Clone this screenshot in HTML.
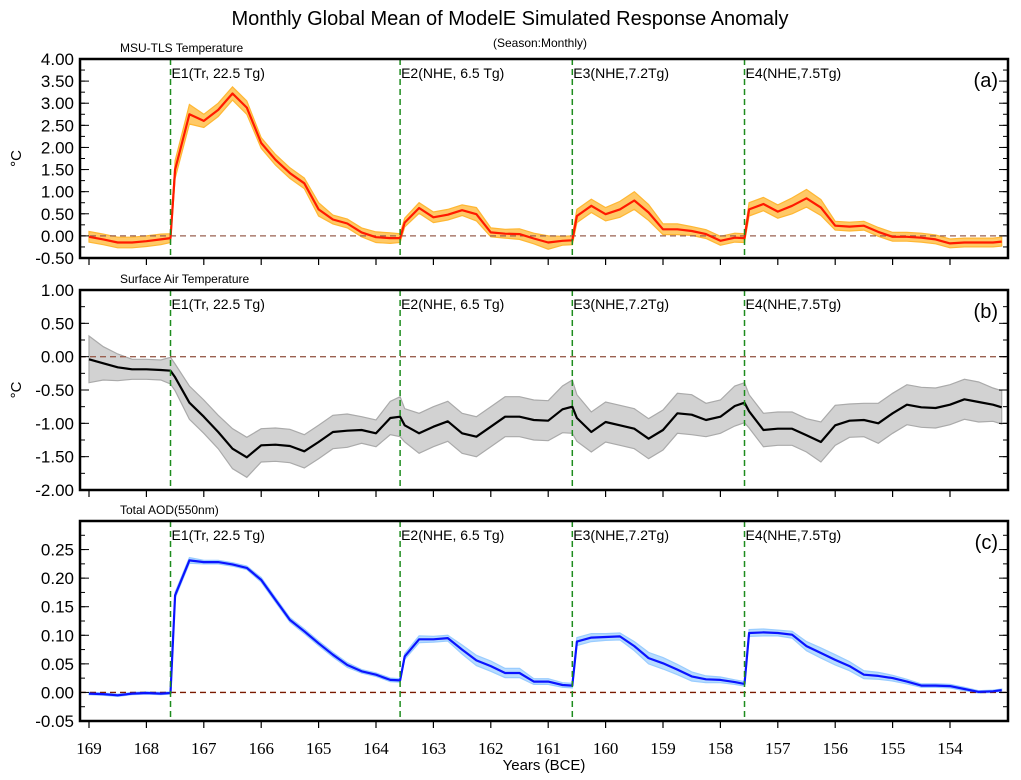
<!DOCTYPE html>
<html><head><meta charset="utf-8"><style>
body{margin:0;background:#fff}
svg{display:block;font-family:"Liberation Sans",sans-serif}
</style></head><body>
<svg id="chart" width="1021" height="780" viewBox="0 0 1021 780">
<text x="510" y="25" font-size="20" text-anchor="middle">Monthly Global Mean of ModelE Simulated Response Anomaly</text>
<text x="540" y="47" font-size="12" text-anchor="middle">(Season:Monthly)</text>
<g id="plots"></g>
<text x="544" y="770" font-size="15" text-anchor="middle" font-family="Liberation Sans Narrow, Liberation Sans, sans-serif">Years (BCE)</text>
</svg>
<script>
const years=[169,168.75,168.5,168.25,168,167.75,167.58,167.5,167.25,167,166.75,166.5,166.25,166,165.75,165.5,165.25,165,164.75,164.5,164.25,164,163.75,163.58,163.5,163.25,163,162.75,162.5,162.25,162,161.75,161.5,161.25,161,160.75,160.58,160.5,160.25,160,159.75,159.5,159.25,159,158.75,158.5,158.25,158,157.75,157.58,157.5,157.25,157,156.75,156.5,156.25,156,155.75,155.5,155.25,155,154.75,154.5,154.25,154,153.75,153.5,153.25,153.1];
const tlsMean=[-0.02,-0.08,-0.15,-0.15,-0.12,-0.08,-0.05,1.5,2.75,2.6,2.85,3.22,2.9,2.1,1.72,1.42,1.19,0.6,0.37,0.28,0.08,-0.03,-0.05,-0.05,0.3,0.63,0.42,0.48,0.58,0.49,0.08,0.05,0.04,-0.06,-0.15,-0.11,-0.1,0.45,0.68,0.49,0.6,0.8,0.53,0.15,0.15,0.11,0.04,-0.11,-0.04,-0.05,0.6,0.72,0.55,0.68,0.85,0.64,0.23,0.21,0.23,0.09,-0.02,-0.02,-0.04,-0.08,-0.17,-0.15,-0.15,-0.15,-0.13];
const tlsSpread=[0.12,0.12,0.12,0.12,0.12,0.12,0.1,0.2,0.22,0.15,0.15,0.15,0.15,0.12,0.12,0.12,0.12,0.15,0.1,0.1,0.1,0.12,0.12,0.1,0.1,0.12,0.12,0.12,0.12,0.15,0.1,0.1,0.12,0.12,0.15,0.1,0.1,0.15,0.15,0.15,0.18,0.2,0.18,0.12,0.12,0.1,0.1,0.1,0.1,0.1,0.15,0.15,0.15,0.18,0.2,0.18,0.1,0.1,0.1,0.1,0.1,0.1,0.1,0.1,0.1,0.1,0.1,0.1,0.1];
const satMean=[-0.04,-0.1,-0.16,-0.19,-0.19,-0.2,-0.21,-0.31,-0.69,-0.9,-1.13,-1.38,-1.51,-1.33,-1.32,-1.34,-1.42,-1.28,-1.13,-1.11,-1.1,-1.15,-0.92,-0.9,-1.03,-1.15,-1.05,-0.97,-1.15,-1.2,-1.05,-0.9,-0.9,-0.95,-0.96,-0.79,-0.75,-0.92,-1.13,-0.98,-1.03,-1.08,-1.23,-1.1,-0.85,-0.87,-0.95,-0.9,-0.74,-0.69,-0.82,-1.1,-1.08,-1.08,-1.18,-1.28,-1.03,-0.96,-0.95,-1.0,-0.85,-0.72,-0.76,-0.77,-0.72,-0.64,-0.68,-0.72,-0.76];
const satSpread=[0.35,0.25,0.2,0.15,0.15,0.15,0.2,0.2,0.25,0.25,0.25,0.3,0.3,0.25,0.25,0.25,0.25,0.25,0.25,0.25,0.2,0.2,0.25,0.3,0.25,0.3,0.3,0.3,0.3,0.3,0.3,0.3,0.3,0.3,0.3,0.35,0.4,0.35,0.3,0.3,0.3,0.3,0.3,0.3,0.3,0.3,0.25,0.25,0.3,0.3,0.25,0.25,0.25,0.25,0.25,0.3,0.3,0.25,0.25,0.3,0.3,0.3,0.3,0.3,0.3,0.3,0.3,0.25,0.25];
const aodMean=[-0.002,-0.003,-0.005,-0.002,-0.001,-0.002,-0.001,0.17,0.231,0.228,0.228,0.224,0.218,0.197,0.162,0.127,0.107,0.086,0.066,0.048,0.037,0.031,0.022,0.021,0.063,0.093,0.093,0.095,0.075,0.056,0.046,0.034,0.034,0.019,0.019,0.013,0.012,0.089,0.096,0.097,0.098,0.081,0.06,0.051,0.04,0.028,0.023,0.022,0.018,0.015,0.104,0.105,0.104,0.101,0.081,0.069,0.057,0.046,0.031,0.029,0.025,0.019,0.012,0.012,0.011,0.006,0.001,0.002,0.004];
const aodSpread=[0.002,0.002,0.002,0.002,0.002,0.002,0.002,0.005,0.005,0.003,0.003,0.003,0.003,0.004,0.004,0.004,0.004,0.004,0.004,0.004,0.003,0.003,0.003,0.003,0.005,0.006,0.005,0.005,0.008,0.009,0.009,0.008,0.008,0.005,0.005,0.004,0.004,0.007,0.007,0.006,0.006,0.008,0.01,0.01,0.009,0.008,0.006,0.005,0.004,0.004,0.006,0.006,0.005,0.006,0.008,0.009,0.009,0.008,0.007,0.006,0.005,0.004,0.003,0.003,0.003,0.003,0.002,0.002,0.002];
const eventYears=[167.58,163.58,160.58,157.58];
const eventLabels=["E1(Tr, 22.5 Tg)","E2(NHE, 6.5 Tg)","E3(NHE,7.2Tg)","E4(NHE,7.5Tg)"];
const xTickYears=[169,168,167,166,165,164,163,162,161,160,159,158,157,156,155,154];
const tlsTicks=["4.00","3.50","3.00","2.50","2.00","1.50","1.00","0.50","0.00","-0.50"];
const satTicks=["1.00","0.50","0.00","-0.50","-1.00","-1.50","-2.00"];
const aodTicks=["0.25","0.20","0.15","0.10","0.05","0.00","-0.05"];

const NS="http://www.w3.org/2000/svg";
const L=80,R=1008;
const xs=y=>89+(169-y)*57.4;
const root=document.getElementById('plots');
function mk(tag,attrs,parent){const e=document.createElementNS(NS,tag);for(const k in attrs)e.setAttribute(k,attrs[k]);(parent||root).appendChild(e);return e;}

const panels=[
 {key:'a',title:'MSU-TLS Temperature',top:59,bot:258,min:-0.5,max:4.0,ticks:tlsTicks,minor:0.25,mean:tlsMean,spread:tlsSpread,band:'#FFB733',bandFill:'#FFC966',line:'#FF1A00',unit:true},
 {key:'b',title:'Surface Air Temperature',top:290,bot:490,min:-2,max:1,ticks:satTicks,minor:0.25,mean:satMean,spread:satSpread,band:'#AAAAAA',bandFill:'#D2D2D2',line:'#000000',unit:true},
 {key:'c',title:'Total AOD(550nm)',top:521,bot:721,min:-0.05,max:0.30,ticks:aodTicks,minor:0.025,mean:aodMean,spread:aodSpread,band:'#99CCFF',bandFill:'#B8DCFF',line:'#0A14FF',unit:false}
];
panels.forEach(p=>{
 const g=mk('g',{});
 
 
 const ys=v=>p.bot-(v-p.min)/(p.max-p.min)*(p.bot-p.top);
 const t=mk('text',{x:120,y:p.top-7,'font-size':12},g);t.textContent=p.title;
 
 
 if(p.unit){const u=mk('text',{x:0,y:0,'font-size':15,transform:`translate(21,${(p.top+p.bot)/2}) rotate(-90)`,'text-anchor':'middle'},g);u.textContent='°C';
  
  }
 // band
 let up='',lo='';
 years.forEach((yr,i)=>{up+=(i?'L':'M')+xs(yr).toFixed(1)+','+ys(p.mean[i]+p.spread[i]).toFixed(1);});
 for(let i=years.length-1;i>=0;i--){lo+='L'+xs(years[i]).toFixed(1)+','+ys(p.mean[i]-p.spread[i]).toFixed(1);}
 const band=mk('path',{d:up+lo+'Z',fill:p.bandFill,stroke:p.band,'stroke-width':1.2},g);
 
 
 // zero line
 const z=mk('line',{x1:L,x2:R,y1:ys(0),y2:ys(0),stroke:p.key=='c'?'#7A1A00':'#9A6050','stroke-width':1.3,'stroke-dasharray':'6,4'},g);
 
 
 // mean
 let d='';years.forEach((yr,i)=>{d+=(i?'L':'M')+xs(yr).toFixed(1)+','+ys(p.mean[i]).toFixed(1);});
 const m=mk('path',{d,fill:'none',stroke:p.line,'stroke-width':2.2,'stroke-linejoin':'round'},g);
 
 
 // events
 eventYears.forEach((ey,i)=>{
  const ln=mk('line',{x1:xs(ey),x2:xs(ey),y1:p.top,y2:p.bot,stroke:'#1E8C1E','stroke-width':1.5,'stroke-dasharray':'6,4'},g);
  
  
  const tx=mk('text',{x:xs(ey)+1,y:p.top+19,'font-size':14},g);tx.textContent=eventLabels[i];
  
  
 });
 // y ticks
 const step=(p.max-p.min);
 for(let v=p.min;v<=p.max+1e-9;v+=p.minor){const yy=ys(v);
  mk('line',{x1:L,x2:L+5,y1:yy,y2:yy,stroke:'#000'},g);mk('line',{x1:R,x2:R-5,y1:yy,y2:yy,stroke:'#000'},g);}
 p.ticks.forEach(s=>{const v=parseFloat(s),yy=ys(v);
  mk('line',{x1:L,x2:L+9,y1:yy,y2:yy,stroke:'#000'},g);mk('line',{x1:R,x2:R-9,y1:yy,y2:yy,stroke:'#000'},g);
  const tl=mk('text',{x:74,y:yy+6,'font-size':17,'text-anchor':'end'},g);tl.textContent=s;
  
  });
 // x ticks
 xTickYears.forEach(yr=>mk('line',{x1:xs(yr),x2:xs(yr),y1:p.bot,y2:p.bot+7,stroke:'#000','stroke-width':1.2},g));
 // frame
 const fr=mk('rect',{x:L,y:p.top,width:R-L,height:p.bot-p.top,fill:'none',stroke:'#000','stroke-width':2.5},g);
 
 
 const pl=mk('text',{x:R-10,y:p.top+28,'font-size':20,'text-anchor':'end'},g);pl.textContent='('+p.key+')';
 
 
});
xTickYears.forEach(yr=>{const t=mk('text',{x:xs(yr),y:754,'font-size':17,'text-anchor':'middle','font-family':'Liberation Serif, serif'});t.textContent=yr;
 
 });
</script>
</body></html>
